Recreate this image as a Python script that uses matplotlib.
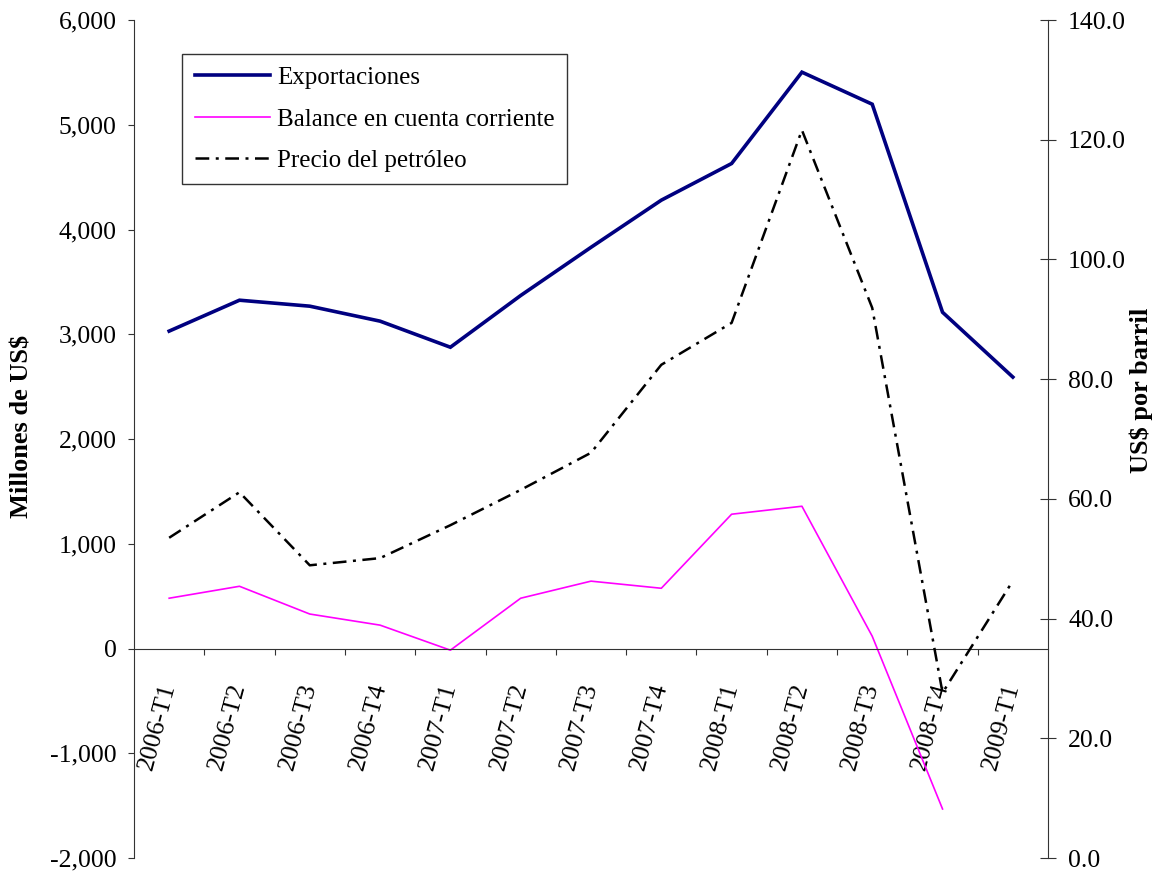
import numpy as np
from matplotlib import pyplot as plt

# trimestres
trimestres = ["2006-T1", "2006-T2", "2006-T3", "2006-T4",
              "2007-T1", "2007-T2", "2007-T3", "2007-T4",
              "2008-T1", "2008-T2", "2008-T3", "2008-T4", "2009-T1"]

# millones de US$
exportaciones = [3030, 3325, 3268, 3125, 2876, 3370, 3830, 4280,
                 4630, 5502, 5196, 3210, 2591]
balance = [480, 594, 329, 223, -16, 480, 643, 575,
           1282, 1358, 117, -1532, np.nan]

# US$ por barril
precio = [53.5, 61.1, 48.9, 50.1, 55.6, 61.5, 67.7, 82.4,
          89.4, 121.6, 91.9, 27.6, 46.3]

plt.rcParams['font.family'] = ['Liberation Serif', 'DejaVu Serif']
eje = '#333333'

fig = plt.figure(figsize=(11.56, 8.72), dpi=100)
ax = fig.add_axes([134/1156, 1 - 858/872, 914/1156, 838/872])
ax2 = ax.twinx()

x = np.arange(len(trimestres))

l1, = ax.plot(x, exportaciones, color='#000080', lw=2.6, solid_joinstyle='miter')
l2, = ax.plot(x, balance, color='#FF00FF', lw=1.2)
l3, = ax2.plot(x, precio, color='black', lw=1.8, dashes=(5.5, 2.6, 1.2, 2.6))

# ejes
ax.set_xlim(-0.5, len(trimestres) - 0.5)
ax.set_ylim(-2000, 6000)
ax.set_yticks(np.arange(-2000, 6001, 1000))
ax.set_yticklabels([f"{v:,}" for v in range(-2000, 6001, 1000)])
ax2.set_ylim(0, 140)
ax2.set_yticks(np.arange(0, 141, 20))
ax2.set_yticklabels([f"{v:.1f}" for v in range(0, 141, 20)])

for s in ['top', 'right']:
    ax.spines[s].set_visible(False)
ax.spines['bottom'].set_position(('data', 0))
for s in ['top', 'bottom', 'left']:
    ax2.spines[s].set_visible(False)
for s in ['left', 'bottom']:
    ax.spines[s].set_color(eje)
ax2.spines['right'].set_color(eje)

ax.set_xticks(np.arange(0.5, len(trimestres) - 1, 1))
ax.set_xticklabels([])
ax.set_xticks(x, trimestres, minor=True)
ax.tick_params(axis='x', which='major', direction='out', length=4, color=eje)
ax.tick_params(axis='x', which='minor', length=0, pad=25, labelsize=18.5)
for lab in ax.get_xticklabels(minor=True):
    lab.set_rotation(75)
    lab.set_rotation_mode('anchor')
    lab.set_ha('right')
    lab.set_va('center')

ax.tick_params(axis='y', direction='out', length=4.5, pad=8, labelsize=18.5, color=eje)
ax2.tick_params(axis='y', direction='inout', length=11, pad=9, labelsize=18.5, color=eje)

ax.set_ylabel("Millones de US$", fontsize=19, fontweight='bold')
ax.yaxis.set_label_coords(-0.1105, 0.5155)
ax2.set_ylabel("US$ por barril", fontsize=19, fontweight='bold')
ax2.yaxis.set_label_coords(1.0897, 0.558)

leg = ax2.legend([l1, l2, l3],
                 ["Exportaciones", "Balance en cuenta corriente", "Precio del petróleo"],
                 loc='upper left', bbox_to_anchor=(182/1156, 1 - 54/872),
                 bbox_transform=fig.transFigure, fontsize=18, frameon=True,
                 fancybox=False, edgecolor='black', handlelength=3.0,
                 handletextpad=0.3, labelspacing=0.76, borderpad=0.5,
                 borderaxespad=0)
leg.get_frame().set_linewidth(1.0)

fig.savefig("out.png", dpi=100)
